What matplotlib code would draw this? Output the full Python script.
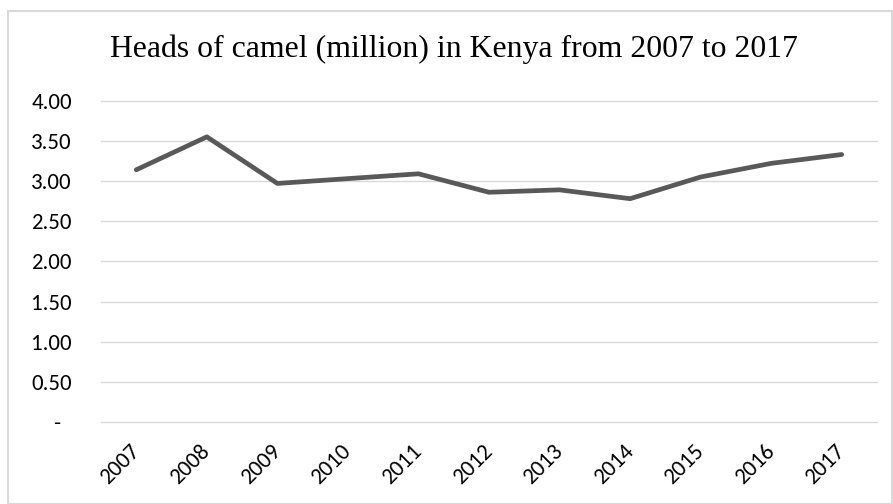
import matplotlib
matplotlib.use("Agg")
import matplotlib.pyplot as plt
from matplotlib.patches import Rectangle

years = ["2007", "2008", "2009", "2010", "2011", "2012", "2013", "2014", "2015", "2016", "2017"]
camels = [3.14, 3.55, 2.97, 3.03, 3.09, 2.86, 2.89, 2.78, 3.05, 3.22, 3.33]
y_ticks = [0, 0.5, 1.0, 1.5, 2.0, 2.5, 3.0, 3.5, 4.0]
y_labels = ["-  ", "0.50", "1.00", "1.50", "2.00", "2.50", "3.00", "3.50", "4.00"]
title = "Heads of camel (million) in Kenya from 2007 to 2017"

W, H = 893, 504
fig = plt.figure(figsize=(W / 100, H / 100), dpi=100)
fig.patch.set_facecolor("white")
fig.patches.append(Rectangle((8 / W, 0.5 / H), (W - 9) / W, (H - 11.5) / H,
                             transform=fig.transFigure, fill=False,
                             edgecolor="#d9d9d9", linewidth=1.5))

ax = fig.add_axes([101 / W, 1 - 422 / H, (877 - 101) / W, (422 - 100.7) / H])
x = list(range(len(years)))
ax.plot(x, camels, color="#595959", linewidth=3.4, solid_capstyle="round",
        solid_joinstyle="round", zorder=3)

ax.set_xlim(-0.5, len(years) - 0.5)
ax.set_ylim(0, 4)
ax.set_yticks(y_ticks)
ax.set_yticklabels(y_labels)
ax.set_xticks(x)
ax.set_xticklabels(years)
for s in ax.spines.values():
    s.set_visible(False)
ax.grid(axis="y", color="#d9d9d9", linewidth=1.0)
for gl in ax.get_ygridlines():
    gl.set_clip_on(False)
ax.set_axisbelow(True)
ax.tick_params(axis="y", length=0, pad=21, labelsize=16.5, labelcolor="black")
ax.tick_params(axis="x", length=0, pad=19, labelsize=16.5, labelcolor="black")
for lab in ax.get_yticklabels() + ax.get_xticklabels():
    lab.set_fontfamily(["Carlito", "Open Sans", "DejaVu Sans"])
for lab in ax.get_xticklabels():
    lab.set_rotation(45)
    lab.set_horizontalalignment("right")
    lab.set_verticalalignment("center")
    lab.set_rotation_mode("anchor")

fig.text(453.5 / W, 1 - 57 / H, title, ha="center", va="baseline",
         fontsize=22.9, family=["Liberation Serif", "DejaVu Serif"], color="black")

fig.savefig("out.png", dpi=100, facecolor="white")
